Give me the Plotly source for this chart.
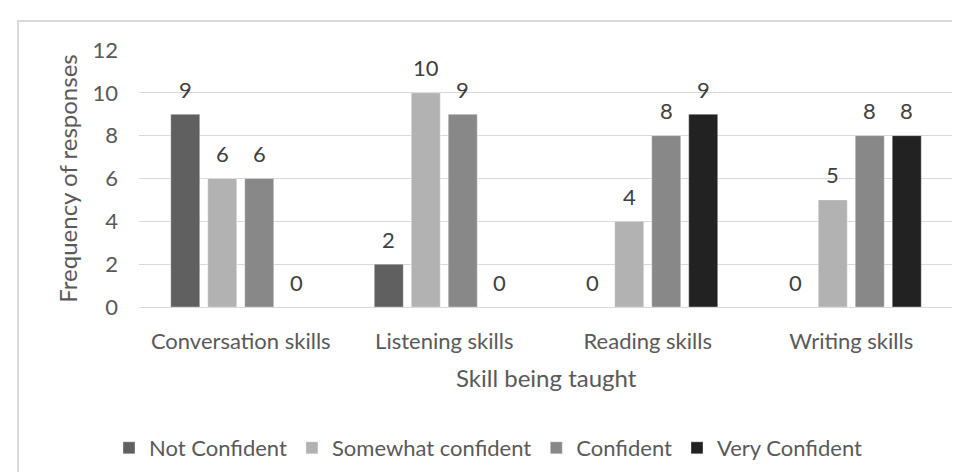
import plotly.graph_objects as go

categories = ["Conversation skills", "Listening skills", "Reading skills", "Writing skills"]
series_names = ["Not Confident", "Somewhat confident", "Confident", "Very Confident"]
not_confident = [9, 2, 0, 0]
somewhat_confident = [6, 10, 4, 5]
confident = [6, 9, 8, 8]
very_confident = [0, 0, 9, 8]
series_values = [not_confident, somewhat_confident, confident, very_confident]
y_ticks = [0, 2, 4, 6, 8, 10, 12]

colors = ["#606060", "#b2b2b2", "#888888", "#222222"]
FONT = "Lato"
TXT = "#595959"
FS = 22
FS_TITLE = 24

W, H = 960, 472
L, R, T, B = 131, 15, 42, 173
pw, ph = W - L - R, H - T - B

def px_x(p):
    return (p - L) / pw

def px_y(p):
    return (H - B - p) / ph

bargap = 0.273
bargroupgap = 0.216

fig = go.Figure()
for name, vals, col in zip(series_names, series_values, colors):
    fig.add_trace(go.Bar(
        x=categories, y=vals, name=name,
        marker=dict(color=col, line=dict(color="rgba(255,255,255,0.35)", width=1)),
    ))

# data labels above bars
n = len(series_names)
slot = (1 - bargap) / n
annotations = []
for k, vals in enumerate(series_values):
    off = (k - (n - 1) / 2) * slot
    for i, v in enumerate(vals):
        annotations.append(dict(
            x=i + off, y=v, xref="x", yref="y", text=str(v), showarrow=False,
            yanchor="middle", yshift=25,
            font=dict(family=FONT, size=FS, color="#404040"),
        ))

annotations.append(dict(
    x=0.5, y=px_y(369), xref="paper", yref="paper",
    text="Skill being taught", showarrow=False, xanchor="center", yanchor="middle",
    font=dict(family=FONT, size=FS_TITLE, color=TXT),
))

fig.update_layout(
    width=W, height=H,
    margin=dict(l=L, r=R, t=T, b=B, autoexpand=False),
    paper_bgcolor="white", plot_bgcolor="white",
    barmode="group", bargap=bargap, bargroupgap=bargroupgap,
    font=dict(family=FONT, size=FS, color=TXT),
    showlegend=True,
    legend=dict(
        orientation="h", x=px_x(101), xanchor="left", y=px_y(440), yanchor="middle",
        font=dict(family=FONT, size=FS, color=TXT), bgcolor="rgba(0,0,0,0)",
        itemclick=False,
    ),
    xaxis=dict(
        type="category", showgrid=False, showline=False, zeroline=False,
        ticks="", ticklabelstandoff=19, tickfont=dict(family=FONT, size=FS, color=TXT),
    ),
    yaxis=dict(
        range=[0, 12], tickvals=y_ticks, showgrid=True, gridcolor="#d9d9d9", gridwidth=1.3,
        zeroline=True, zerolinecolor="#d9d9d9", zerolinewidth=1.3, showline=False,
        ticks="", ticklabelstandoff=20, tickfont=dict(family=FONT, size=FS, color=TXT),
        title=dict(text="Frequency of responses", standoff=8,
                   font=dict(family=FONT, size=FS_TITLE, color=TXT)),
    ),
    annotations=annotations,
    shapes=[dict(
        type="rect", xref="paper", yref="paper",
        x0=px_x(10), x1=px_x(1000), y0=px_y(13), y1=px_y(520),
        line=dict(color="#d9d9d9", width=2), fillcolor="rgba(0,0,0,0)", layer="below",
    )],
)

fig.write_html("out.html")
